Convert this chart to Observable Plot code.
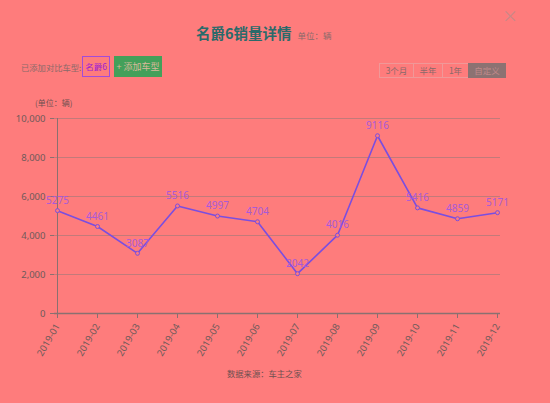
<!DOCTYPE html>
<html><head><meta charset="utf-8">
<script src="https://cdn.jsdelivr.net/npm/d3@7"></script>
<script src="https://cdn.jsdelivr.net/npm/@observablehq/plot@0.6"></script>
<style>
html,body{margin:0;padding:0;}
body{width:550px;height:403px;background:#fe7c7c;position:relative;overflow:hidden;font-family:"Noto Sans CJK SC","Noto Sans",sans-serif;}
.abs{position:absolute;white-space:nowrap;}
#title{left:196px;top:20px;}
#title b{font-size:14.5px;color:#2a6a6a;}
#title span{font-size:8.5px;color:#8a6a6a;margin-left:6px;}
#close{left:502px;top:3px;font-size:16px;color:#c88888;}
#added{left:21px;top:61px;font-size:8.3px;color:#8a6a6a;}
#tag{left:82px;top:56px;width:26px;height:19px;border:1px solid #a24cd8;font-size:8.5px;color:#a020d0;line-height:19px;text-align:center;}
#btn{left:114px;top:56px;width:48px;height:21px;background:#43a05a;font-size:9px;color:#d9b89a;line-height:21px;text-align:center;}
#seg{left:380px;top:63px;display:flex;}
#seg div{font-size:8.5px;color:#8a6a6a;border:1px solid #f09898;height:13px;line-height:13px;text-align:center;margin-left:-1px;}
#seg div.on{background:#8c7272;color:#c08a8a;border-color:#8c7272;}
#unit{left:35px;top:97px;font-size:8px;color:#6e5050;}
#src{left:227px;top:367px;font-size:8.3px;color:#6e5050;}
#chart{left:0;top:100px;}
</style></head>
<body>
<div class="abs" id="title"><b>名爵6销量详情</b><span>单位：辆</span></div>
<div class="abs" id="close">×</div>
<div class="abs" id="added">已添加对比车型:</div>
<div class="abs" id="tag">名爵6</div>
<div class="abs" id="btn">+ 添加车型</div>
<div class="abs" id="seg"><div style="width:33px">3个月</div><div style="width:28px">半年</div><div style="width:25px">1年</div><div class="on" style="width:36px">自定义</div></div>
<div class="abs" id="unit">(单位：辆)</div>
<div class="abs" id="chart"></div>
<div class="abs" id="src">数据来源：车主之家</div>
<script>
const months = ["2019-01","2019-02","2019-03","2019-04","2019-05","2019-06","2019-07","2019-08","2019-09","2019-10","2019-11","2019-12"];
const sales = [5275,4461,3087,5516,4997,4704,2042,4016,9116,5416,4859,5171];
const yTicks = [0,2000,4000,6000,8000,10000];
const data = months.map((m,i)=>({month:m, value:sales[i]}));

const chart = Plot.plot({
  width:550, height:262,
  marginTop:18, marginBottom:49, marginLeft:54, marginRight:50,
  style:{background:"transparent", fontFamily:"'Noto Sans','DejaVu Sans',sans-serif", fontSize:"9.5px", color:"#6e5a5a"},
  x:{type:"point", domain:months, padding:0, label:null},
  y:{domain:[0,10000], label:null},
  marks:[
    Plot.gridY(yTicks,{stroke:"#9a7a7a", strokeOpacity:0.6}),
    Plot.axisY({ticks:yTicks, tickFormat:d3.format(","), tickSize:4, stroke:"#8a7070", color:"#6e5a5a", fontSize:9.5}),
    Plot.ruleX([months[0]],{stroke:"#8a7070"}),
    Plot.axisX({tickRotate:-60, tickSize:5, stroke:"#8a7070", color:"#6e5a5a", fontSize:9.5}),
    Plot.ruleY([0],{stroke:"#8a7070", strokeWidth:1.5}),
    Plot.line(data,{x:"month", y:"value", stroke:"#7a4ee0", strokeWidth:1.6}),
    Plot.dot(data,{x:"month", y:"value", r:2, stroke:"#7a4ee0", fill:"#fe7c7c", strokeWidth:1}),
    Plot.text(data,{x:"month", y:"value", text:d=>String(d.value), dy:-10, fill:"#a85ad8", fontSize:10})
  ]
});
document.getElementById("chart").appendChild(chart);
</script>
</body></html>
